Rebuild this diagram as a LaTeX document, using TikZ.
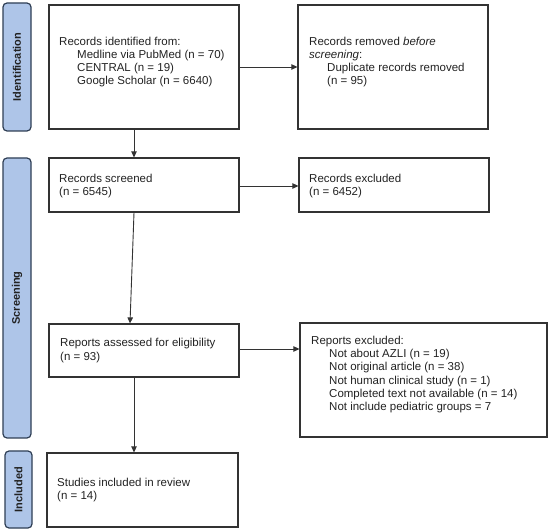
\documentclass[tikz,border=0pt]{standalone}
\usepackage{fontspec}
\setmainfont{Liberation Sans}
\usetikzlibrary{arrows.meta}
\definecolor{lblfill}{HTML}{AEC5E8}
\definecolor{lbldraw}{HTML}{2F3F55}
\definecolor{boxdraw}{HTML}{333333}
\definecolor{txt}{HTML}{222222}
\begin{document}
\begin{tikzpicture}[x=1pt,y=-1pt,
  box/.style={draw=boxdraw,line width=1.2pt,rectangle,inner sep=0pt},
  lbl/.style={draw=lbldraw,fill=lblfill,line width=1.2pt,rounded corners=4pt,inner sep=0pt},
  lbltext/.style={rotate=90,font=\fontsize{11}{13}\selectfont\bfseries,text=txt},
  bt/.style={anchor=west,align=left,inner sep=0pt,text=txt,font=\fontsize{11.5}{13.3}\selectfont},
  arr/.style={draw=boxdraw,line width=0.9pt,-{Triangle[length=6pt,width=5.5pt]}}]
\useasboundingbox (0,0) rectangle (550,532);
% side labels
\node[lbl,minimum width=28,minimum height=128] (lid) at (17,67) {};
\node[lbltext] (tid) at (lid.center) {Identification};
\node[lbl,minimum width=28,minimum height=280] (lscr) at (17,298) {};
\node[lbltext] (tscr) at (lscr.center) {Screening};
\node[lbl,minimum width=27,minimum height=77] (linc) at (18.5,489.5) {};
\node[lbltext] (tinc) at (linc.center) {Included};
% boxes
\node[box,minimum width=190,minimum height=124] (b1) at (144,67) {};
\node[box,minimum width=190,minimum height=124] (rem) at (393,67) {};
\node[box,minimum width=190,minimum height=54] (scr) at (144,185) {};
\node[box,minimum width=190,minimum height=54] (exc) at (394,185) {};
\node[box,minimum width=190,minimum height=53] (ass) at (144,350.5) {};
\node[box,minimum width=247,minimum height=114] (rexc) at (423.5,380) {};
\node[box,minimum width=191,minimum height=74] (stu) at (142.5,490) {};
% texts
\node[bt] (t1) at (59,62) {Records identified from:\\\hspace*{18pt}Medline via PubMed (n = 70)\\\hspace*{18pt}CENTRAL (n = 19)\\\hspace*{18pt}Google Scholar (n = 6640)};
\node[bt] (t2) at (309,62) {Records removed \emph{before}\\\emph{screening}:\\\hspace*{18pt}Duplicate records removed\\\hspace*{18pt}(n = 95)};
\node[bt] (t3) at (59,186) {Records screened\\(n = 6545)};
\node[bt] (t4) at (309,186) {Records excluded\\(n = 6452)};
\node[bt] (t5) at (60,350.5) {Reports assessed for eligibility\\(n = 93)};
\node[bt] (t6) at (311,374.5) {Reports excluded:\\\hspace*{18pt}Not about AZLI (n = 19)\\\hspace*{18pt}Not original article (n = 38)\\\hspace*{18pt}Not human clinical study (n = 1)\\\hspace*{18pt}Completed text not available (n = 14)\\\hspace*{18pt}Not include pediatric groups = 7};
\node[bt] (t7) at (57,490) {Studies included in review\\(n = 14)};
% arrows
\draw[arr] (b1.east) -- (b1.east -| rem.west);
\draw[arr] ([xshift=-10pt]b1.south) -- ([xshift=-10pt]b1.south |- scr.north);
\draw[arr] ([yshift=-1pt]scr.east) -- ([yshift=-1pt]scr.east -| exc.west);
\draw[arr] ([xshift=-10pt]scr.south) -- ([xshift=-14pt]ass.north);
\draw[arr] ([yshift=1.5pt]ass.east) -- ([yshift=1.5pt]ass.east -| rexc.west);
\draw[arr] ([xshift=-10pt]ass.south) -- ([xshift=-10pt]ass.south |- stu.north);
\end{tikzpicture}
\end{document}
